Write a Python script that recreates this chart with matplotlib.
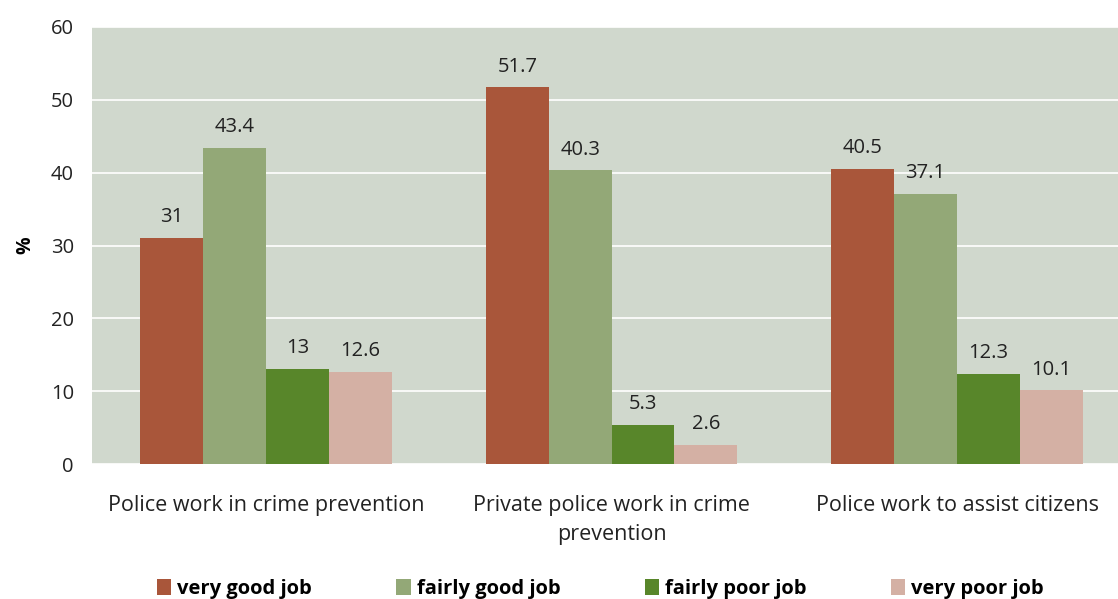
import matplotlib
matplotlib.use("Agg")
import matplotlib.pyplot as plt
import numpy as np

categories = ["Police work in crime prevention",
              "Private police work in crime\nprevention",
              "Police work to assist citizens"]
series_names = ["very good job", "fairly good job", "fairly poor job", "very poor job"]
very_good = [31, 51.7, 40.5]
fairly_good = [43.4, 40.3, 37.1]
fairly_poor = [13, 5.3, 12.3]
very_poor = [12.6, 2.6, 10.1]
value_labels = [["31", "51.7", "40.5"], ["43.4", "40.3", "37.1"],
                ["13", "5.3", "12.3"], ["12.6", "2.6", "10.1"]]
colors = ["#A9563A", "#93A877", "#58862A", "#D4B0A4"]

plt.rcParams["font.family"] = ["Open Sans", "DejaVu Sans"]

fig = plt.figure(figsize=(11.18, 5.99), dpi=100)
ax = fig.add_axes([92 / 1118, 1 - 464 / 599, 1026 / 1118, 437 / 599])
ax.set_facecolor("#D0D8CD")

x = np.arange(len(categories))
width = 0.182
series = [very_good, fairly_good, fairly_poor, very_poor]
for i, (vals, name, col) in enumerate(zip(series, series_names, colors)):
    pos = x + (i - 1.5) * width
    ax.bar(pos, vals, width, color=col, label=name, zorder=3)
    for p, v, lab in zip(pos, vals, value_labels[i]):
        ax.text(p, v + 1.5, lab, ha="center", va="bottom", fontsize=14.5, color="#222222")

ax.set_xlim(-0.504, 2.466)
ax.set_ylim(0, 60)
ax.set_yticks(range(0, 61, 10))
ax.yaxis.grid(True, color="white", linewidth=1.2, zorder=0)
ax.set_axisbelow(True)
for s in ax.spines.values():
    s.set_visible(False)
ax.tick_params(axis="both", length=0, labelsize=14.5, colors="#222222")
ax.tick_params(axis="y", pad=13)
ax.tick_params(axis="x", pad=22)
ax.set_xticks(x)
ax.set_xticklabels(categories, fontsize=15.5, linespacing=1.55)
ax.set_ylabel("%", fontsize=14, fontweight="bold", labelpad=11)

leg = fig.legend(loc="lower center", bbox_to_anchor=(0.537, -0.03), ncol=4, frameon=False,
                 prop={"size": 14.5, "weight": "bold"}, handlelength=0.7, handleheight=0.9,
                 handletextpad=0.3, columnspacing=4.2)

fig.savefig("out.png", dpi=100, facecolor="white")
